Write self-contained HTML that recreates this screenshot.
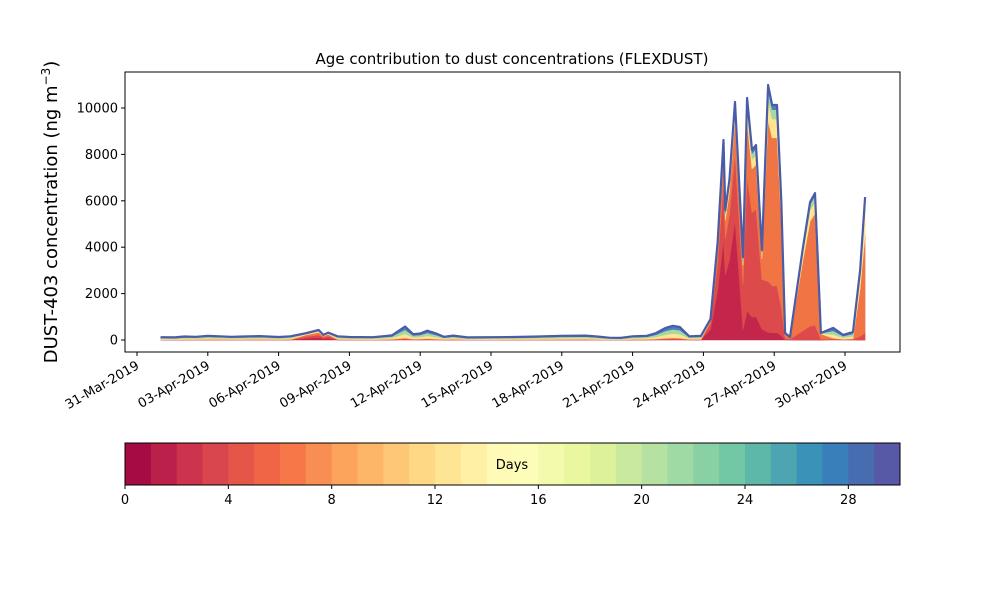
<!DOCTYPE html>
<html><head><meta charset="utf-8"><style>
body{margin:0;background:#fff;font-family:"Liberation Sans","DejaVu Sans",sans-serif}
svg text{font-family:"DejaVu Sans","Liberation Sans",sans-serif}
</style></head><body>
<svg id="c" width="1000" height="600" xmlns="http://www.w3.org/2000/svg">
<rect width="1000" height="600" fill="#fff"/>
<text x="512" y="64" font-size="15" text-anchor="middle">Age contribution to dust concentrations (FLEXDUST)</text>
<text transform="translate(57,212) rotate(-90)" font-size="18" text-anchor="middle">DUST-403 concentration (ng m<tspan dy="-7" font-size="12">−3</tspan><tspan dy="7">)</tspan></text>
<g id="plot"></g>
<rect x="125" y="72" width="775" height="280" fill="none" stroke="#000" stroke-width="1"/>
<g id="axes"></g>
<g id="cbar"></g>
</svg>
<script>
// time in days since 31-Mar-2019
const times=[1.0,1.6,2.0,2.5,3.0,3.5,4.0,4.5,5.2,6.0,6.5,7.2,7.7,7.9,8.1,8.5,9.0,10.0,10.8,11.36,11.7,12.0,12.3,12.7,13.0,13.4,14,15,16,17,18,19,19.5,20,20.5,21,21.6,22.0,22.4,22.7,23.0,23.4,23.9,24.3,24.6,24.85,24.93,25.1,25.34,25.68,25.85,26.06,26.23,26.48,26.74,26.91,27.12,27.3,27.46,27.67,28.22,28.52,28.73,28.98,29.5,29.92,30.34,30.64,30.85];
const totals=[120,110,150,140,180,160,140,150,170,130,160,300,430,220,320,160,130,120,200,580,250,280,400,270,140,190,110,120,130,150,180,190,150,100,90,160,180,300,520,610,560,160,180,900,4200,8620,5600,6900,10260,3580,10430,8190,8400,3880,10990,10130,10130,6000,300,130,4000,5950,6330,300,520,220,350,3000,6160];
// composition profile per time point (index into the share arrays)
const profileIdx=[0,0,0,0,0,0,0,0,0,0,0,1,1,1,1,0,0,0,0,0,0,0,0,0,0,0,0,0,0,0,0,0,0,0,0,0,0,0,0,0,0,0,0,2,2,2,2,2,2,3,3,3,3,3,4,4,4,4,4,4,5,5,5,5,0,0,0,6,6];
const shareCrimson=[0.03,0.25,0.50,0.12,0.03,0.00,0.00];
const shareRed    =[0.05,0.25,0.28,0.55,0.20,0.10,0.05];
const shareOrange =[0.07,0.25,0.14,0.23,0.63,0.76,0.68];
const shareYellow =[0.30,0.12,0.04,0.05,0.08,0.08,0.18];
const shareGreen  =[0.30,0.07,0.02,0.03,0.04,0.04,0.06];
const shareBlue   =[0.25,0.06,0.02,0.02,0.02,0.02,0.03];
const layerShares=[shareCrimson,shareRed,shareOrange,shareYellow,shareGreen,shareBlue];
const layerColors=['#c4264b','#dc4a4c','#f07444','#fee48f','#a5d9a4','#4f7fbd'];
const yTicks=[0,2000,4000,6000,8000,10000];
const xTickDays=[0,3,6,9,12,15,18,21,24,27,30];
const xTickLabels=['31-Mar-2019','03-Apr-2019','06-Apr-2019','09-Apr-2019','12-Apr-2019','15-Apr-2019','18-Apr-2019','21-Apr-2019','24-Apr-2019','27-Apr-2019','30-Apr-2019'];
const cbTicks=[0,4,8,12,16,20,24,28];

const NS='http://www.w3.org/2000/svg';
const X=d=>137+23.6*d;
const Y=v=>340-0.0232*v;
function mk(tag,attrs,parent){const e=document.createElementNS(NS,tag);for(const k in attrs)e.setAttribute(k,attrs[k]);parent.appendChild(e);return e;}
const plot=document.getElementById('plot');
let base=times.map(()=>0);
layerShares.forEach((sh,li)=>{
  const top=times.map((t,i)=>base[i]+totals[i]*sh[profileIdx[i]]);
  let d='M'+times.map((t,i)=>X(t).toFixed(1)+','+Y(top[i]).toFixed(1)).join('L');
  for(let i=times.length-1;i>=0;i--)d+='L'+X(times[i]).toFixed(1)+','+Y(base[i]).toFixed(1);
  const p=mk('path',{d:d+'Z',fill:layerColors[li],stroke:layerColors[li],'stroke-width':0.5},plot);
  
  
  base=top;
});
const tl=mk('path',{d:'M'+times.map((t,i)=>X(t).toFixed(1)+','+Y(totals[i]).toFixed(1)).join('L'),fill:'none',stroke:'#4a5ba8','stroke-width':2.2,'stroke-linejoin':'round'},plot);



const ax=document.getElementById('axes');
yTicks.forEach(v=>{
  mk('line',{x1:121,x2:125,y1:Y(v),y2:Y(v),stroke:'#000'},ax);
  const t=mk('text',{x:118,y:Y(v)+4.5,'font-size':13,'text-anchor':'end'},ax);
  t.textContent=v;
  
  
});
xTickDays.forEach((d,i)=>{
  mk('line',{x1:X(d),x2:X(d),y1:352,y2:356,stroke:'#000'},ax);
  const t=mk('text',{x:0,y:0,'font-size':13,'text-anchor':'end',transform:`translate(${X(d)+3},${368}) rotate(-30)`},ax);
  t.textContent=xTickLabels[i];
  
  
});

// colorbar (Spectral, 30 bins)
const spec=['#9e0142','#d53e4f','#f46d43','#fdae61','#fee08b','#ffffbf','#e6f598','#abdda4','#66c2a5','#3288bd','#5e4fa2'];
function hex(h){return [1,3,5].map(k=>parseInt(h.substr(k,2),16));}
function cmap(f){const p=f*10,i=Math.min(9,Math.floor(p)),r=p-i,a=hex(spec[i]),b=hex(spec[i+1]);return 'rgb('+a.map((v,k)=>Math.round(v+(b[k]-v)*r)).join(',')+')';}
const cb=document.getElementById('cbar');
const CX=v=>125+775*v/30;
for(let k=0;k<30;k++){
  const r=mk('rect',{x:CX(k),y:443,width:775/30+0.5,height:42,fill:cmap((k+0.5)/30)},cb);
  
  
}
mk('rect',{x:125,y:443,width:775,height:42,fill:'none',stroke:'#000'},cb);
const dl=mk('text',{x:512,y:469,'font-size':13,'text-anchor':'middle'},cb);
dl.textContent='Days';


cbTicks.forEach(v=>{
  mk('line',{x1:CX(v),x2:CX(v),y1:485,y2:489,stroke:'#000'},cb);
  const t=mk('text',{x:CX(v),y:504,'font-size':13,'text-anchor':'middle'},cb);
  t.textContent=v;
  
  
});
</script>
</body></html>
